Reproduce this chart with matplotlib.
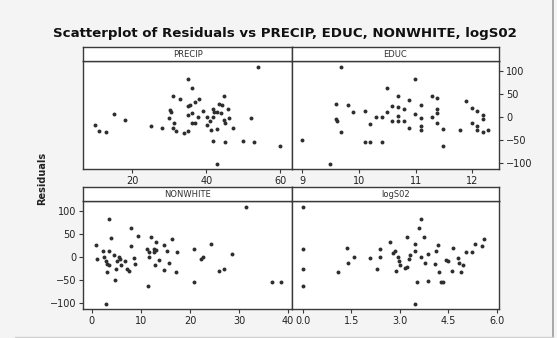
import numpy as np
import matplotlib
matplotlib.use('Agg')
import matplotlib.pyplot as plt
from matplotlib.lines import Line2D

# residuals vs each predictor
precip_x = [9.8, 10.9, 12.9, 14.9, 17.9, 24.9, 28.0, 31.0, 33.0, 34.9, 36.0, 30.1, 30.4,
            29.9, 31.2, 31.0, 31.9, 33.9, 35.0, 35.0, 35.6, 36.9, 38.0, 35.1, 36.0, 36.0,
            36.9, 37.8, 39.0, 40.1, 40.1, 41.0, 41.2, 41.9, 42.2, 42.8, 43.3, 44.2, 43.9,
            41.9, 43.0, 44.9, 44.9, 45.1, 45.9, 46.2, 47.1, 41.9, 45.1, 50.0, 53.0, 52.1,
            54.1, 60.0, 43.0]
precip_y = [-17, -30, -32, 7, -5, -19, -24, 46, 39, 82, 63, 16, 12,
            -2, -12, -24, -29, -33, -29, 25, 27, 34, 40, 5, 9, -12,
            -13, 0, 14, 1, -17, -9, -27, 19, 12, 12, 29, 27, 10,
            0, -26, 46, -6, -13, 19, -2, -24, -51, -53, -51, -53, -2,
            110, -62, -102]

educ_x = [9.0, 9.49, 9.69, 9.59, 9.59, 9.61, 9.69, 9.8, 9.9, 10.11, 10.11, 10.19, 10.19,
          10.3, 10.4, 10.4, 10.49, 10.49, 10.59, 10.59, 10.69, 10.69, 10.69, 10.69, 10.79,
          10.79, 10.89, 10.89, 10.99, 10.99, 11.09, 11.09, 11.09, 11.09, 11.28, 11.28,
          11.38, 11.38, 11.38, 11.38, 11.49, 11.49, 11.78, 11.89, 11.99, 11.99, 12.08,
          12.08, 12.09, 12.18, 12.18, 12.18, 12.28]
educ_y = [-50, -101, 110, 29, -4, -8, -32, 27, 11, 14, -53, -53, -15,
          1, 1, -53, 12, 63, 25, -9, 46, 22, 3, -9, 18,
          -9, 38, -24, 82, 7, 27, -2, -19, -27, 46, 0,
          41, 19, 10, -13, -26, -62, -27, 35, 21, -13, 14,
          -19, -27, 5, -4, -31, -27]

nonwhite_x = [0.8, 1.0, 2.2, 2.5, 2.9, 3.1, 3.1, 2.9, 3.5, 3.4, 3.5, 3.9, 4.6, 4.75,
              5.0, 5.2, 5.6, 5.8, 6.0, 6.7, 7.1, 7.5, 8.0, 8.0, 8.6, 8.8, 9.4, 11.5,
              11.3, 11.7, 11.7, 12.1, 12.6, 12.7, 13.0, 13.1, 12.9, 13.7, 14.7, 14.7,
              15.4, 15.8, 16.3, 17.1, 17.4, 20.9, 20.9, 22.2, 22.6, 24.3, 25.9, 27.0,
              28.6, 31.4, 36.8, 38.5]
nonwhite_y = [27, -4, 14, 0, -9, -14, -32, -102, 82, 14, -17, 41, 5, -50,
              -26, -7, 1, -3, -17, -9, -26, -29, 25, 63, -2, -14, 46, -62,
              19, 12, 1, 45, 19, 12, 34, 16, -17, -6, 27, -27,
              14, -12, 39, -32, 12, 19, -53, -4, 0, 28, -29, -25,
              7, 108, -53, -53]

logso2_x = [0.0, 0.0, 0.0, 0.0, 1.1, 1.38, 1.39, 1.6, 2.07, 2.29, 2.38, 2.38, 2.69,
            2.78, 2.86, 2.88, 2.96, 2.98, 3.0, 3.17, 3.22, 3.22, 3.29, 3.33, 3.46,
            3.48, 3.53, 3.48, 3.61, 3.66, 3.66, 3.74, 3.77, 3.87, 3.89, 4.08, 4.12,
            4.17, 4.2, 4.29, 4.34, 4.44, 4.48, 4.62, 4.65, 4.8, 4.82, 4.88, 4.96,
            5.06, 5.24, 5.32, 5.55, 5.6]
logso2_y = [108, 17, -26, -62, -32, 21, -12, 1, -2, -26, 17, 0, 34,
            9, 14, -29, 1, -9, -17, -24, -20, 43, -4, 5, 28,
            14, -53, -102, 63, 82, 1, 45, -13, 7, -51, -15, 14,
            27, -32, -53, -53, -6, -9, -29, 21, -2, -13, -31, -17,
            12, 11, 28, 25, 39]

panel_names = ['PRECIP', 'EDUC', 'NONWHITE', 'logS02']
xlims = [(6.6, 63.2), (8.82, 12.47), (-1.8, 40.8), (-0.33, 6.07)]
xticks = [[20, 40, 60], [9, 10, 11, 12], [0, 10, 20, 30, 40], [0.0, 1.5, 3.0, 4.5, 6.0]]
xticklabels = [['20', '40', '60'], ['9', '10', '11', '12'],
               ['0', '10', '20', '30', '40'], ['0.0', '1.5', '3.0', '4.5', '6.0']]
yticks = [-100, -50, 0, 50, 100]

W, H = 557, 338
fig = plt.figure(figsize=(W / 100, H / 100), dpi=100, facecolor='#f4f4f4')

# faint frame of the scanned page
fig.add_artist(Line2D([553 / W, 553 / W], [0, 1], color='#9a9a9a', lw=1.2))
fig.add_artist(Line2D([15 / W, 553 / W], [1 / H, 1 / H], color='#d0d0d0', lw=1))


def px_box(x0, x1, y0, y1):
    # pixel box (y from top) -> figure fraction rect
    return [x0 / W, 1 - y1 / H, (x1 - x0) / W, (y1 - y0) / H]


cols = [(83, 292), (292, 499)]
rows = [(47, 61, 169), (187, 201, 309)]
data = [(precip_x, precip_y), (educ_x, educ_y), (nonwhite_x, nonwhite_y), (logso2_x, logso2_y)]
edge = '#3a3a3a'

for i in range(4):
    r, c = divmod(i, 2)
    x0, x1 = cols[c]
    top, strip_bot, bot = rows[r]

    ax = fig.add_axes(px_box(x0, x1, strip_bot, bot))
    ax.set_facecolor('white')
    xs, ys = data[i]
    ax.scatter(xs, ys, s=8, color='#2e2e2e', linewidths=0)
    ax.set_xlim(*xlims[i])
    ax.set_ylim(-112, 122)
    ax.set_xticks(xticks[i])
    ax.set_xticklabels(xticklabels[i])
    ax.set_yticks(yticks)
    for sp in ax.spines.values():
        sp.set_color(edge)
        sp.set_linewidth(1.0)
    ax.tick_params(axis='both', direction='out', length=3, width=0.8, color=edge,
                   labelsize=7, labelcolor='#222222', pad=2)
    if i == 1:
        ax.yaxis.tick_right()
    elif i == 2:
        ax.yaxis.tick_left()
    else:
        ax.tick_params(axis='y', left=False, right=False, labelleft=False, labelright=False)

    sax = fig.add_axes(px_box(x0, x1, top, strip_bot))
    sax.set_facecolor('white')
    sax.set_xticks([])
    sax.set_yticks([])
    for sp in sax.spines.values():
        sp.set_color(edge)
        sp.set_linewidth(1.0)
    sax.text(0.5, 0.45, panel_names[i], ha='center', va='center', fontsize=6,
             color='#333333', transform=sax.transAxes)

fig.text(285 / W, 1 - 33 / H, 'Scatterplot of Residuals vs PRECIP, EDUC, NONWHITE, logS02',
         ha='center', va='center', fontsize=9.6, fontweight='bold', color='#111111')
fig.text(42 / W, 1 - 178 / H, 'Residuals', rotation=90, ha='center', va='center',
         fontsize=7, fontweight='bold', color='#222222')

fig.savefig('out.png', dpi=100, facecolor=fig.get_facecolor())
